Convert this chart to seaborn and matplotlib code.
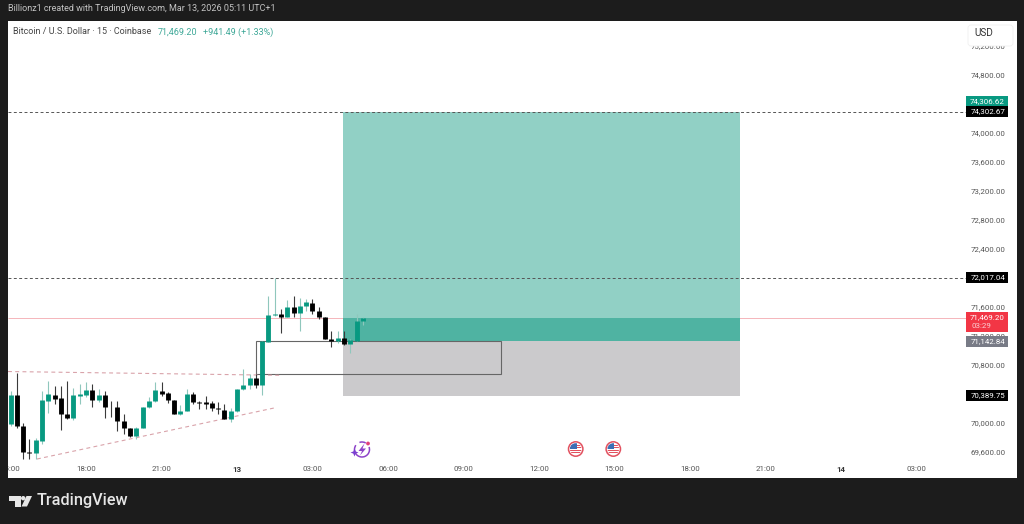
import numpy as np
import pandas as pd
import matplotlib
matplotlib.use("Agg")
import matplotlib.pyplot as plt
from matplotlib.patches import Rectangle, Circle, FancyBboxPatch, Polygon, Arc
from matplotlib.transforms import ScaledTranslation
import seaborn as sns

sns.set_theme(style="white")
plt.rcParams["font.family"] = ["Roboto", "DejaVu Sans"]

# 15 minute candles, bar 0 is 00:00 on the 13th
first_bar = -36
opens = [69997, 70402, 69979, 69616, 69602, 69767, 70319, 70402, 70356, 70140,
         70080, 70393, 70406, 70466, 70328, 70397, 70241, 70236, 70048, 69942,
         69841, 69951, 70232, 70319, 70462, 70434, 70328, 70135, 70181, 70416,
         70305, 70301, 70287, 70222, 70195, 70075, 70181, 70480, 70540, 70641,
         70535, 71133, 71501, 71519, 71482, 71611, 71537, 71629, 71675, 71565,
         71478, 71179, 71142, 71183, 71105, 71151, 71418]
closes = [70402, 69974, 69616, 69606, 69781, 70328, 70411, 70351, 70140, 70084,
          70397, 70416, 70466, 70328, 70397, 70236, 70232, 70048, 69947, 69836,
          69942, 70232, 70324, 70466, 70420, 70328, 70140, 70181, 70411, 70305,
          70296, 70282, 70218, 70204, 70075, 70181, 70480, 70540, 70641, 70540,
          71142, 71501, 71519, 71482, 71611, 71537, 71629, 71680, 71565, 71478,
          71179, 71147, 71183, 71110, 71156, 71418, 71469.20]
highs = [70462, 70701, 70020, 69799, 69804, 70452, 70590, 70530, 70530, 70590,
         70503, 70553, 70576, 70549, 70480, 70462, 70324, 70314, 70135, 69951,
         69956, 70241, 70370, 70586, 70576, 70448, 70328, 70264, 70489, 70439,
         70324, 70388, 70319, 70310, 70278, 70218, 70480, 70760, 70687, 70687,
         71142, 71767, 72017, 71583, 71717, 71767, 71744, 71721, 71731, 71620,
         71478, 71289, 71280, 71289, 71174, 71519, 71473]
lows = [69974, 69942, 69524, 69524, 69524, 69730, 70158, 70278, 69919, 70071,
        70057, 70273, 70370, 70232, 70310, 70089, 70098, 69905, 69864, 69827,
        69795, 69942, 70218, 70305, 70393, 70287, 70135, 70121, 70176, 70278,
        70213, 70213, 70176, 70144, 70066, 70029, 70172, 70471, 70480, 70494,
        70406, 71133, 71491, 71252, 71482, 71482, 71289, 71565, 71519, 71445,
        71170, 71059, 71114, 71091, 70976, 71151, 71367]

# levels
target_price = 74306.62
entry_price = 71142.84
stop_price = 70389.75
last_price = 71469.20
upper_level = 74302.67
mid_level = 72017.04
position_start, position_end = 16.9, 79.9
box_start, box_end, box_low = 3, 42, 70692
trend_upper_x, trend_upper_y = [-36.4, 6.84], [70726, 70674]
trend_lower_x, trend_lower_y = [-31.8, 5.9], [69519, 70223]

# axis labels, the ones hidden behind a price tag are left out
price_ticks = [69600, 70000, 70800, 71200, 71600, 72400, 72800,
               73200, 73600, 74000, 74800, 75200]
time_ticks = [-36, -24, -12, 0, 12, 24, 36, 48, 60, 72, 84, 96, 108]
time_labels = ["15:00", "18:00", "21:00", "13", "03:00", "06:00", "09:00", "12:00",
               "15:00", "18:00", "21:00", "14", "03:00"]

GREEN = "#089981"
DARK = "#1c1c1c"
TICK = "#555555"


# scale of the picture, used to line the panel up with the frame
def px_to_price(y):
    return entry_price + (341.3 - y) / 0.0725


def px_to_bar(x):
    return (x - 237) / 6.29


fig = plt.figure(figsize=(10.24, 5.24), dpi=100, facecolor=DARK)
ax = fig.add_axes([7.5 / 1024, (524 - 477.5) / 524, (1017 - 7.5) / 1024, (477.5 - 21) / 524])
ax.set_facecolor("white")
ax.set_xlim(px_to_bar(7.5), px_to_bar(1017))
ax.set_ylim(px_to_price(477.5), px_to_price(21))

# position tool
ax.add_patch(Rectangle((position_start, entry_price), position_end - position_start,
                       target_price - entry_price, fc="#91d0c5", ec="none", zorder=1))
ax.add_patch(Rectangle((position_start, entry_price), position_end - position_start,
                       last_price - entry_price, fc="#4fb3a2", ec="none", zorder=1.1))
ax.add_patch(Rectangle((position_start, stop_price), position_end - position_start,
                       entry_price - stop_price, fc="#cbcacc", ec="none", zorder=1))
ax.add_patch(Rectangle((box_start, box_low), box_end - box_start, entry_price - box_low,
                       fc="none", ec="#666666", lw=0.8, zorder=1.5))

# levels and trend lines
line_end = px_to_bar(966)
line_start = px_to_bar(7.5)
ax.hlines([upper_level, mid_level], line_start, line_end, color="#555555", lw=0.7,
          ls=(0, (3, 2.5)), zorder=2)
ax.hlines(last_price, line_start, line_end, color="#f5b5ba", lw=0.7, zorder=0.9)
ax.plot(trend_upper_x, trend_upper_y, color="#d9a3aa", lw=0.8, ls=(0, (3.5, 3)), zorder=2)
ax.plot(trend_lower_x, trend_lower_y, color="#d9a3aa", lw=0.8, ls=(0, (3.5, 3)), zorder=2)

# candles
bars = pd.DataFrame({"bar": first_bar + np.arange(len(opens)), "open": opens,
                     "close": closes, "high": highs, "low": lows})
bars["side"] = np.where(bars["close"] >= bars["open"], "up", "down")
wicks = bars.melt(id_vars=["bar", "side"], value_vars=["high", "low"], value_name="price")
bodies = bars.melt(id_vars=["bar", "side"], value_vars=["open", "close"], value_name="price")
sns.lineplot(data=wicks, x="bar", y="price", hue="side", units="bar", estimator=None,
             palette={"up": "#8fc7bc", "down": "#3a3a3a"}, lw=0.8, legend=False,
             solid_capstyle="butt", zorder=3, ax=ax)
sns.lineplot(data=bodies, x="bar", y="price", hue="side", units="bar", estimator=None,
             palette={"up": GREEN, "down": "#000000"}, lw=3.5, legend=False,
             solid_capstyle="butt", zorder=4, ax=ax)

# axes, labels inside the panel
ax.set_xlabel("")
ax.set_ylabel("")
sns.despine(ax=ax, left=True, bottom=True, right=True, top=True)
ax.yaxis.tick_right()
ax.set_yticks(price_ticks)
ax.set_yticklabels([f"{p:,.2f}" for p in price_ticks])
ax.set_xticks(time_ticks)
ax.set_xticklabels(time_labels)
ax.set_xlim(px_to_bar(7.5), px_to_bar(1017))
ax.set_ylim(px_to_price(477.5), px_to_price(21))
ax.tick_params(axis="y", length=0, pad=-8, labelsize=5.7, labelcolor=TICK)
ax.tick_params(axis="x", length=0, pad=-8.4, labelsize=5.7, labelcolor=TICK)
nudge = ScaledTranslation(0, 1 / 100, fig.dpi_scale_trans)
for lab in ax.get_yticklabels():
    lab.set_ha("right")
    lab.set_transform(lab.get_transform() + nudge)
for lab in ax.get_xticklabels():
    if lab.get_text() in ("13", "14"):
        lab.set_fontweight("bold")
        lab.set_color("#333333")

# overlay in pixels for the frame, price tags, header and icons
top = fig.add_axes([0, 0, 1, 1], facecolor="none")
top.set_xlim(0, 1024)
top.set_ylim(524, 0)
top.axis("off")
top.add_patch(Rectangle((0, 21), 7.5, 457, fc=DARK, ec="none"))

top.text(8, 8.5, "Billionz1 created with TradingView.com, Mar 13, 2026 05:11 UTC+1",
         color="#c4c4c4", fontsize=6.5, va="center")
top.text(13, 32, "Bitcoin / U.S. Dollar · 15 · Coinbase", color="#444444", fontsize=6.5, va="center")
top.text(158, 32, f"{last_price:,.2f}", color="#3fa898", fontsize=6.5, va="center")
top.text(203, 32, "+941.49 (+1.33%)", color="#3fa898", fontsize=6.5, va="center")

top.add_patch(FancyBboxPatch((968, 25), 45, 21, boxstyle="round,pad=0,rounding_size=3",
                             fc="white", ec="#f0f0f0", lw=0.6))
top.text(984, 33, "USD", color="#333333", fontsize=7.2, ha="center", va="center")


def price_tag(y0, y1, text, color, text_color="white"):
    top.add_patch(Rectangle((966, y0), 42, y1 - y0, fc=color, ec="none"))
    top.text(1005, (y0 + y1) / 2, text, color=text_color, fontsize=5.7, ha="right", va="center")


price_tag(96, 106, f"{target_price:,.2f}", GREEN)
price_tag(106, 117, f"{upper_level:,.2f}", "#000000")
price_tag(272, 283, f"{mid_level:,.2f}", "#000000")
price_tag(336, 347, f"{entry_price:,.2f}", "#787b86")
price_tag(390, 401, f"{stop_price:,.2f}", "#000000")
top.add_patch(Rectangle((966, 312), 42, 20, fc="#f23645", ec="none"))
top.text(1005, 317.5, f"{last_price:,.2f}", color="white", fontsize=5.7, ha="right", va="center")
top.text(972, 326.5, "03:29", color="#fbd0d4", fontsize=5.7, ha="left", va="center")


# event icons
def flag_icon(cx, cy):
    disc = Circle((cx, cy), 7.2, fc="white", ec="#e2515f", lw=1.1, zorder=5)
    top.add_patch(disc)
    inner = Circle((cx, cy), 5.8, transform=top.transData)
    for dy in (-3.5, -1.2, 1.2, 3.5):
        r = Rectangle((cx - 7, cy + dy - 0.55), 14, 1.1, fc="#e2515f", ec="none", zorder=6)
        top.add_patch(r)
        r.set_clip_path(inner)
    r = Rectangle((cx - 6, cy - 6), 7, 5.8, fc="#3b6fb5", ec="none", zorder=7)
    top.add_patch(r)
    r.set_clip_path(inner)


flag_icon(575.7, 449)
flag_icon(613.3, 449)

top.add_patch(Arc((362, 449.5), 15, 15, theta1=-20, theta2=215, color="#8e44c9", lw=1.1))
top.add_patch(Arc((362, 449.5), 15, 15, theta1=250, theta2=300, color="#8e44c9", lw=1.1))
top.add_patch(Polygon([[364.5, 443.5], [358.5, 451], [362, 451], [360, 455.5], [366, 448.5], [362.5, 448.5]],
                      fc="#8e44c9", ec="none"))
top.add_patch(Polygon([[354.5, 448.5], [355.7, 451.5], [358.5, 452.5], [355.7, 453.6], [354.5, 456.5],
                       [353.3, 453.6], [350.5, 452.5], [353.3, 451.5]], fc="#7b3fd1", ec="none"))
top.add_patch(Circle((368, 443.5), 1.9, fc="#e0407a", ec="none"))

# logo
top.add_patch(Polygon([[9, 496], [21, 496], [21, 506.5], [14.5, 506.5], [14.5, 500.5], [9, 500.5]], fc="#e6e6e6", ec="none"))
top.add_patch(Circle((23.2, 498.2), 2.2, fc="#e6e6e6", ec="none"))
top.add_patch(Polygon([[26.5, 496], [32, 496], [27, 506.5], [21.5, 506.5]], fc="#e6e6e6", ec="none"))
top.text(37, 501, "TradingView", color="#e6e6e6", fontsize=11.7, fontweight="medium", va="center")

fig.savefig("out.png", dpi=100, facecolor=DARK)
